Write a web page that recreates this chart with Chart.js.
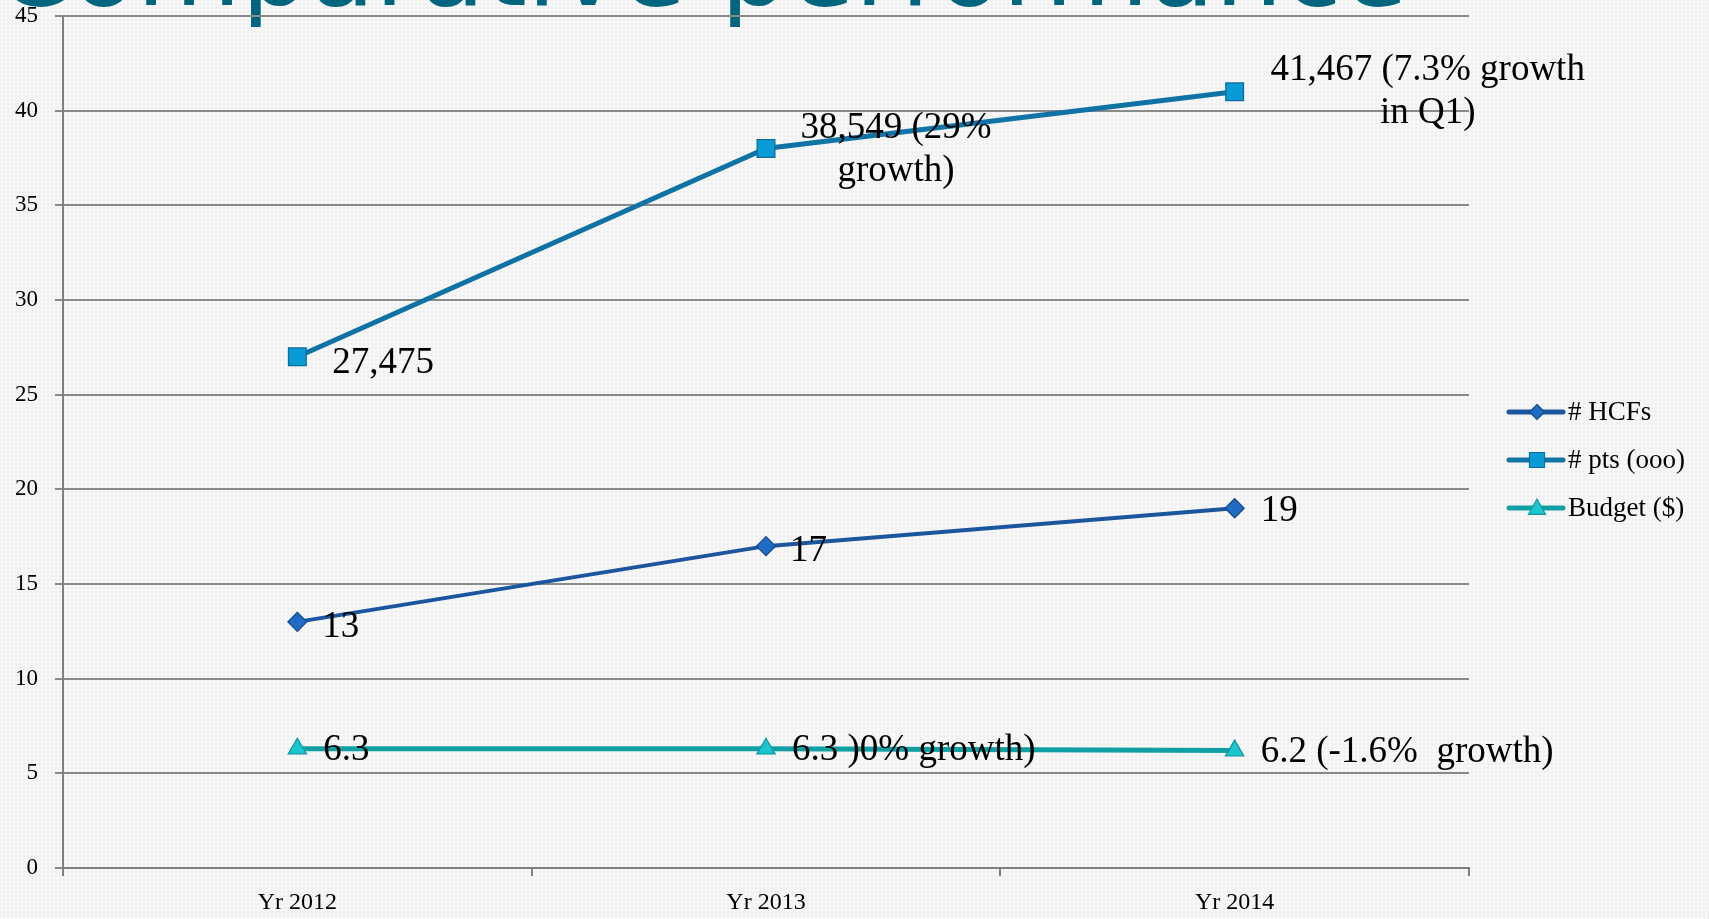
<!DOCTYPE html>
<html lang="en">
<head>
  <meta charset="UTF-8" />
  <title>Comparative performance</title>
  <script src="https://cdn.jsdelivr.net/npm/chart.js"></script>
  <style>
    * {
      box-sizing: border-box;
    }

    html, body {
      margin: 0;
      padding: 0;
      width: 1709px;
      height: 919px;
      overflow: hidden;
    }

    body {
      background-color: #f2f2f2;
      background-image: radial-gradient(rgba(255, 255, 255, 0.8) 1px, transparent 1.3px);
      background-size: 4px 4px;
    }

    #chart {
      display: block;
    }
  </style>
</head>
<body>
  <canvas id="chart" width="1709" height="919"></canvas>

<script>
const slideTitle = 'Comparative performance';
const categories = ['Yr 2012', 'Yr 2013', 'Yr 2014'];
const seriesNames = ['# HCFs', '# pts (ooo)', 'Budget ($)'];

const hcfs = [13, 17, 19];
const pts = [27, 38, 41];
const budget = [6.3, 6.3, 6.2];

const hcfsLabels = [['13'], ['17'], ['19']];
const ptsLabels = [['27,475'], ['38,549 (29%', 'growth)'], ['41,467 (7.3% growth', 'in Q1)']];
const budgetLabels = [['6.3'], ['6.3 )0% growth)'], ['6.2 (-1.6%  growth)']];

const serif = "'Liberation Serif', 'DejaVu Serif', serif";

// label placement relative to each point: [dx, dy, align]
const labelPlacement = [
  [[25, 5, 'left'], [24, 5, 'left'], [26, 3, 'left']],
  [[35, 6, 'left'], [130, -20, 'center'], [193, -21, 'center']],
  [[26, 2, 'left'], [26, 2, 'left'], [26, 2, 'left']]
];
const allLabels = [hcfsLabels, ptsLabels, budgetLabels];

const styles = [
  { line: '#1a559e', fill: '#1f6cc4', border: '#154a8a', shape: 'diamond', width: 4 },
  { line: '#0f74a5', fill: '#0a9ad6', border: '#0d6d9a', shape: 'square', width: 5 },
  { line: '#10a0a4', fill: '#1cc6cf', border: '#0e9aa0', shape: 'triangle', width: 5 }
];

function markerPath(ctx, shape, x, y, r) {
  ctx.beginPath();
  if (shape === 'diamond') {
    ctx.moveTo(x, y - r);
    ctx.lineTo(x + r, y);
    ctx.lineTo(x, y + r);
    ctx.lineTo(x - r, y);
  } else if (shape === 'square') {
    ctx.rect(x - r, y - r, 2 * r, 2 * r);
  } else {
    ctx.moveTo(x, y - r);
    ctx.lineTo(x + r * 0.95, y + r * 0.7);
    ctx.lineTo(x - r * 0.95, y + r * 0.7);
  }
  ctx.closePath();
}

// slide title: mostly cut off by the top edge, only the bottoms of the letters show
const titlePlugin = {
  id: 'titlePlugin',
  beforeDraw(chart) {
    const ctx = chart.ctx;
    ctx.save();
    ctx.font = "100px 'DejaVu Sans', sans-serif";
    const fs = 100 * 1412 / ctx.measureText(slideTitle).width;
    ctx.font = fs + "px 'DejaVu Sans', sans-serif";
    ctx.fillStyle = '#00657d';
    ctx.textAlign = 'left';
    ctx.textBaseline = 'alphabetic';
    ctx.fillText(slideTitle, -4, 5);
    ctx.restore();
  }
};

const pointLabels = {
  id: 'pointLabels',
  afterDatasetsDraw(chart) {
    const ctx = chart.ctx;
    ctx.save();
    ctx.font = '37px ' + serif;
    ctx.fillStyle = '#000';
    ctx.textBaseline = 'middle';
    chart.data.datasets.forEach((ds, i) => {
      chart.getDatasetMeta(i).data.forEach((pt, j) => {
        const [dx, dy, align] = labelPlacement[i][j];
        ctx.textAlign = align;
        allLabels[i][j].forEach((line, k) => {
          ctx.fillText(line, pt.x + dx, pt.y + dy + k * 43);
        });
      });
    });
    ctx.restore();
  }
};

const sideLegend = {
  id: 'sideLegend',
  afterDraw(chart) {
    const ctx = chart.ctx;
    const x0 = chart.chartArea.right + 40;
    ctx.save();
    ctx.font = '27px ' + serif;
    ctx.textBaseline = 'middle';
    ctx.textAlign = 'left';
    chart.data.datasets.forEach((ds, i) => {
      const st = styles[i];
      const y = 412 + i * 48;
      ctx.strokeStyle = st.line;
      ctx.lineWidth = 5;
      ctx.lineCap = 'round';
      ctx.beginPath();
      ctx.moveTo(x0, y);
      ctx.lineTo(x0 + 54, y);
      ctx.stroke();
      ctx.lineCap = 'butt';
      markerPath(ctx, st.shape, x0 + 28, y, st.shape === 'triangle' ? 9 : 7.5);
      ctx.fillStyle = st.fill;
      ctx.fill();
      ctx.lineWidth = 1.2;
      ctx.strokeStyle = st.border;
      ctx.stroke();
      ctx.fillStyle = '#000';
      ctx.fillText(ds.label, x0 + 59, y + 1);
    });
    ctx.restore();
  }
};

const seriesData = [hcfs, pts, budget];
const pointStyles = { diamond: 'rectRot', square: 'rect', triangle: 'triangle' };
const pointRadii = { diamond: 9.5, square: 12.5, triangle: 10.5 };

new Chart(document.getElementById('chart'), {
  type: 'line',
  data: {
    labels: categories,
    datasets: seriesData.map((d, i) => ({
      label: seriesNames[i],
      data: d,
      borderColor: styles[i].line,
      borderWidth: styles[i].width,
      backgroundColor: styles[i].fill,
      pointStyle: pointStyles[styles[i].shape],
      pointRadius: pointRadii[styles[i].shape],
      pointBackgroundColor: styles[i].fill,
      pointBorderColor: styles[i].border,
      pointBorderWidth: 1.3,
      tension: 0,
      fill: false
    }))
  },
  options: {
    responsive: false,
    animation: false,
    devicePixelRatio: 1,
    layout: { autoPadding: false, padding: { top: 16, right: 240, left: 0, bottom: 0 } },
    plugins: {
      legend: { display: false },
      tooltip: { enabled: false }
    },
    scales: {
      x: {
        offset: true,
        grid: { display: true, drawOnChartArea: false, offset: true, tickLength: 8, color: '#7f7f7f', lineWidth: 2 },
        border: { display: true, color: '#7f7f7f', width: 2 },
        ticks: { font: { family: serif, size: 24 }, color: '#000', padding: 12, maxRotation: 0 },
        afterFit: s => { s.height = 51; }
      },
      y: {
        min: 0,
        max: 45,
        grid: { color: '#8a8a8a', lineWidth: 2, tickLength: 8 },
        border: { display: true, color: '#7f7f7f', width: 2 },
        ticks: { stepSize: 5, font: { family: serif, size: 23 }, color: '#000', padding: 17 },
        afterFit: s => {
          s.width = 63;
          s.paddingTop = 0;
          s.paddingBottom = 0;
        }
      }
    }
  },
  plugins: [titlePlugin, pointLabels, sideLegend]
});
</script>
</body>
</html>
